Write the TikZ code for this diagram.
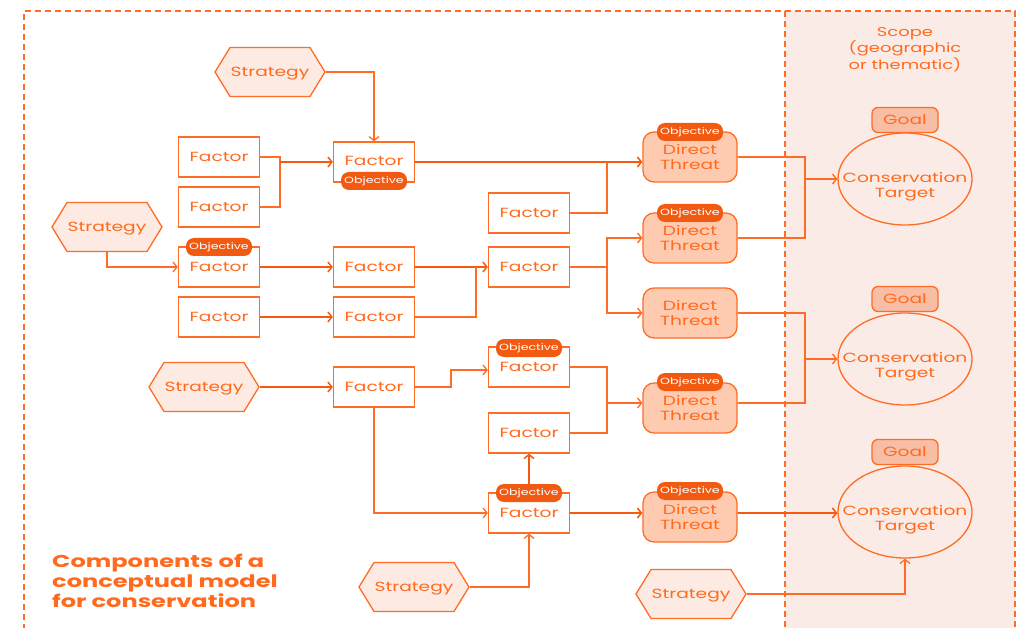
\documentclass[tikz,border=0pt]{standalone}
\usepackage{fontspec}
\setmainfont[FakeStretch=1.4]{Poppins}
\usetikzlibrary{arrows.meta,shapes.geometric,shapes.symbols,calc}
\definecolor{lineor}{HTML}{FF6C25}
\definecolor{thickor}{HTML}{F55A10}
\definecolor{txtor}{HTML}{FF6A1E}
\definecolor{objfill}{HTML}{F25A12}
\definecolor{threatfill}{HTML}{FFCBB0}
\definecolor{goalfill}{HTML}{F8BEA5}
\definecolor{stratfill}{HTML}{FDEAE2}
\definecolor{scopefill}{HTML}{FBEBE6}
\newcommand{\nfont}{\fontsize{13.3}{15}\selectfont}
\newcommand{\ofont}{\fontsize{9}{10}\selectfont}
\newcommand{\ctlabel}{\makebox[0pt]{\begin{tabular}{@{}c@{}}\rule{0pt}{26.5pt}Conservation\\Target\end{tabular}}}
\begin{document}
\begin{tikzpicture}[x=1pt,y=-1pt,
  every node/.style={text=txtor, font=\nfont, inner sep=0pt},
  factor/.style={draw=lineor, fill=white, line width=1.3pt, minimum width=81pt, minimum height=40pt},
  threat/.style={draw=lineor, fill=threatfill, line width=1.3pt, rounded corners=11pt, minimum width=94pt, minimum height=50pt, align=center},
  strat/.style={signal, signal to=east and west, signal pointer angle=117, draw=lineor, fill=stratfill, line width=1.3pt, minimum width=110pt, minimum height=49pt, text depth=0pt},
  objective/.style={fill=objfill, rounded corners=8pt, minimum width=66pt, minimum height=18pt, text=white, font=\ofont},
  goal/.style={draw=lineor, fill=goalfill, line width=1.3pt, rounded corners=6pt, minimum width=66pt, minimum height=25pt},
  target/.style={ellipse, draw=lineor, line width=1.3pt, minimum width=134pt, minimum height=92pt},
  thinl/.style={draw=lineor, line width=1.3pt},
  thinarrow/.style={thinl, -{Straight Barb[length=4pt,width=10pt,line width=1.3pt]}},
  thickarrow/.style={draw=thickor, line width=2pt, -{Straight Barb[length=4pt,width=10pt,line width=1.5pt]}},
  frame/.style={draw=lineor, line width=1.4pt, dash pattern=on 6pt off 4pt}
]
\useasboundingbox (0,0) rectangle (1022,628);
\clip (0,0) rectangle (1022,628);
% backgrounds
\fill[scopefill] (785,11) rectangle (1015,640);
\draw[frame] (24,640) -- (24,11) -- (1015,11) -- (1015,640);
\draw[frame] (785,11) -- (785,640);
\node[align=center, font=\fontsize{12.8}{15}\selectfont] (scope) at (905,49.5) {Scope\\(geographic\\or thematic)};
\node[align=left, anchor=west, font=\bfseries\fontsize{17.2}{20}\selectfont] (title) at (52,581) {Components of a\\conceptual model\\for conservation};

% strategies
\node[strat] (S1) at (270,72) {Strategy};
\node[strat] (S2) at (107,227) {Strategy};
\node[strat] (S3) at (204,387) {Strategy};
\node[strat] (S4) at (414,587) {Strategy};
\node[strat] (S5) at (691,594) {Strategy};
% factors
\node[factor] (Fa) at (219,157) {Factor};
\node[factor] (Fb) at (219,207) {Factor};
\node[factor] (Fc) at (374,162) {\raisebox{2pt}{Factor}};
\node[factor] (Fd) at (529,213) {Factor};
\node[factor] (Fe) at (219,267) {Factor};
\node[factor] (Ff) at (374,267) {Factor};
\node[factor] (Fg) at (219,317) {Factor};
\node[factor] (Fh) at (374,317) {Factor};
\node[factor] (Fi) at (529,267) {Factor};
\node[factor] (Fj) at (374,387) {Factor};
\node[factor] (Fk) at (529,367) {Factor};
\node[factor] (Fl) at (529,433) {Factor};
\node[factor] (Fm) at (529,513) {Factor};
% threats
\node[threat] (T1) at (690,157) {Direct\\Threat};
\node[threat] (T2) at (690,238) {Direct\\Threat};
\node[threat] (T3) at (690,313) {Direct\\Threat};
\node[threat] (T4) at (690,408) {Direct\\Threat};
\node[threat] (T5) at (690,517) {Direct\\Threat};
% targets
\node[target] (C1) at (905,179) {\ctlabel};
\node[target] (C2) at (905,359) {\ctlabel};
\node[target] (C3) at (905,512) {\ctlabel};
\node[goal] (G1) at (905,120) {Goal};
\node[goal] (G2) at (905,299) {Goal};
\node[goal] (G3) at (905,452) {Goal};

% junctions
\coordinate (ja) at (280,162);
\coordinate (jb) at (607,162);
\coordinate (jc) at (476,267);
\coordinate (jd) at (607,267);
\coordinate (je) at (451,370);
\coordinate (jf) at (607,403);
\coordinate (jg) at (805,179);
\coordinate (jh) at (805,359);

% connectors
\draw[thinarrow] (S1.east) -| (Fc.north);
\draw[thinl] (Fa.east) -| (ja);
\draw[thinl] (Fb.east) -| (ja);
\draw[thickarrow] (ja) -- (Fc.west);
\draw[thickarrow] (Fc.east) -- (Fc.east -| T1.west);
\draw[thinl] (Fd.east) -| (jb);
\draw[thinarrow] (S2.south) |- (Fe.west);
\draw[thickarrow] (Fe.east) -- (Ff.west);
\draw[thickarrow] (Ff.east) -- (Fi.west);
\draw[thinl] (Fh.east) -| (jc);
\draw[thickarrow] (Fg.east) -- (Fh.west);
\draw[thinl] (Fi.east) -- (jd);
\draw[thinarrow] (jd) |- (T2.west);
\draw[thinarrow] (jd) |- (T3.west);
\draw[thickarrow] (S3.east) -- (Fj.west);
\draw[thinarrow] (Fj.east) -| (je) -- (je -| Fk.west);
\draw[thinarrow] (Fj.south) |- (Fm.west);
\draw[thickarrow] (Fm.north) -- (Fl.south);
\draw[thinarrow] (S4.east) -| (Fm.south);
\draw[thinl] (Fk.east) -| (jf);
\draw[thinl] (Fl.east) -| (jf);
\draw[thinarrow] (jf) -- (jf -| T4.west);
\draw[thickarrow] (Fm.east) -- (Fm.east -| T5.west);
\draw[thinl] (T1.east) -| (jg);
\draw[thinl] (T2.east) -| (jg);
\draw[thinarrow] (jg) -- (C1.west);
\draw[thinl] (T3.east) -| (jh);
\draw[thinl] ([yshift=5pt]T4.east) -| (jh);
\draw[thinarrow] (jh) -- (C2.west);
\draw[thickarrow] ([yshift=4pt]T5.east) -- ([yshift=4pt]T5.east -| C3.west);
\draw[thinarrow] (S5.east) -| (C3.south);

% objective badges
\node[objective] (Oc) at (374,181) {Objective};
\node[objective] (Oe) at (219,247) {Objective};
\node[objective] (Ok) at (529,348) {Objective};
\node[objective] (Om) at (529,493) {Objective};
\node[objective] (O1) at (690,132) {Objective};
\node[objective] (O2) at (690,213) {Objective};
\node[objective] (O4) at (690,382) {Objective};
\node[objective] (O5) at (690,491) {Objective};
\end{tikzpicture}
\end{document}
